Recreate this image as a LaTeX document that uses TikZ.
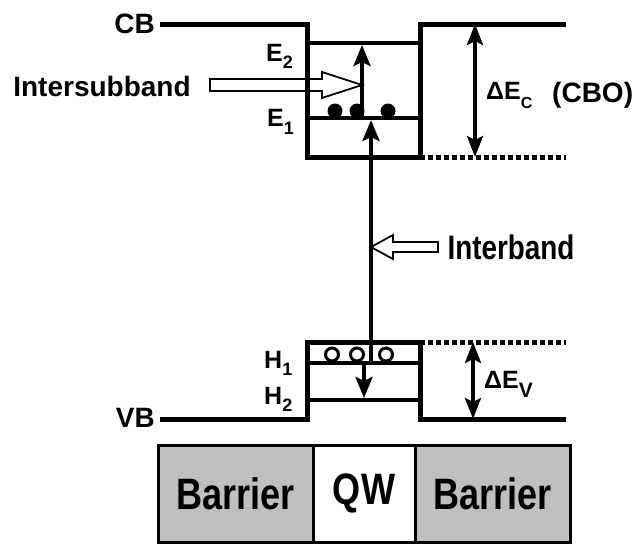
\documentclass[tikz,border=0pt]{standalone}
\usepackage{fontspec}
\setmainfont{Liberation Sans}
\newfontfamily\narrowfont[FakeStretch=0.82]{Liberation Sans}
\usetikzlibrary{arrows.meta}
\newcommand{\lvsub}[3]{#1\raisebox{-#3}{\fontsize{18}{18}\selectfont #2}}

\begin{document}
\begin{tikzpicture}[x=1pt, y=-1pt, every node/.style={font=\bfseries, inner sep=0pt},
  band/.style={line width=5pt},
  subband/.style={line width=4pt},
  offset/.style={line width=5pt, dash pattern=on 5pt off 3pt},
  trans/.style={line width=4pt, -{Stealth[length=21pt,width=17pt,inset=4pt]}},
  offsetarrow/.style={line width=3.5pt, {Stealth[length=21pt,width=16pt,inset=4pt]}-{Stealth[length=21pt,width=16pt,inset=4pt]}},
  hollow/.style={draw, line width=1.8pt, fill=white},
  big/.style={font=\fontsize{28}{30}\selectfont\bfseries},
  lvlabel/.style={font=\fontsize{25}{27}\selectfont\bfseries, anchor=base west},
  region/.style={draw, line width=3pt, minimum height=97pt, font=\narrowfont\fontsize{44}{46}\selectfont\bfseries}]
\useasboundingbox (0,0) rectangle (636,544);

\coordinate (isbtip) at (362,85);
\coordinate (ibtip) at (371,247);
\draw[hollow] (isbtip) -- ++(-40,-13) -- ++(0,7) -- ++(-112,0) -- ++(0,12) -- ++(112,0) -- ++(0,7) -- cycle;
\draw[hollow] (ibtip) -- ++(22,-12) -- ++(0,7) -- ++(45,0) -- ++(0,10) -- ++(-45,0) -- ++(0,7) -- cycle;

\draw[band] (160,24) -- (307,24) -- (307,157) -- (420,157) -- (420,24) -- (566,24);
\draw[offset] (420,157) -- (566,157);
\draw[subband] (307,43) -- (420,43);
\draw[subband] (307,118) -- (420,118);
\draw[band] (160,419) -- (307,419) -- (307,342) -- (420,342) -- (420,419) -- (566,419);
\draw[offset] (420,342) -- (566,342);
\draw[subband] (307,363) -- (420,363);
\draw[subband] (307,400) -- (420,400);

\foreach \x in {335,357,388} \fill (\x,111) circle[radius=7.5];
\foreach \x in {332,357,386} \draw[line width=3pt, fill=white] (\x,354.5) circle[radius=6.5];

\coordinate (e1) at (362,118);
\coordinate (e2) at (362,45);
\coordinate (h1) at (371,365);
\coordinate (e1b) at (371,120);
\coordinate (h1b) at (364,363);
\coordinate (h2) at (364,398);
\draw[trans] (e1) -- (e2);
\draw[trans] (h1) -- (e1b);
\draw[trans] (h1b) -- (h2);

\coordinate (cbtop) at (475,24);
\coordinate (cbbot) at (475,157);
\coordinate (vbtop) at (473,342);
\coordinate (vbbot) at (473,419);
\draw[offsetarrow] (cbtop) -- (cbbot);
\draw[offsetarrow] (vbtop) -- (vbbot);

\node[big, anchor=east] (cb) at (155,24) {CB};
\node[big, anchor=east] (vb) at (155,418) {VB};
\node[big] (isb) at (102,86) {Intersubband};
\node[font=\narrowfont\fontsize{34}{36}\selectfont\bfseries] (ib) at (511,247) {Interband};
\node[lvlabel] (le2) at (266,61) {\lvsub{E}{2}{7pt}};
\node[lvlabel] (le1) at (267,126) {\lvsub{E}{1}{8pt}};
\node[lvlabel] (lh1) at (264,368) {\lvsub{H}{1}{7pt}};
\node[lvlabel] (lh2) at (264,404) {\lvsub{H}{2}{7pt}};
\node[lvlabel] (dec) at (486,99) {ΔE\raisebox{-9pt}{\fontsize{16}{16}\selectfont C}};
\node[big, anchor=base west] (cbo) at (552,102) {(CBO)};
\node[lvlabel] (dev) at (484,388) {ΔE\raisebox{-9pt}{\fontsize{21}{21}\selectfont V}};

\node[region, fill=black!25, minimum width=155pt] (barl) at (235.5,493.5) {Barrier};
\node[region, fill=white, minimum width=102pt] (qw) at (364,493.5) {QW};
\node[region, fill=black!25, minimum width=155pt] (barr) at (492.5,493.5) {Barrier};
\end{tikzpicture}
\end{document}
